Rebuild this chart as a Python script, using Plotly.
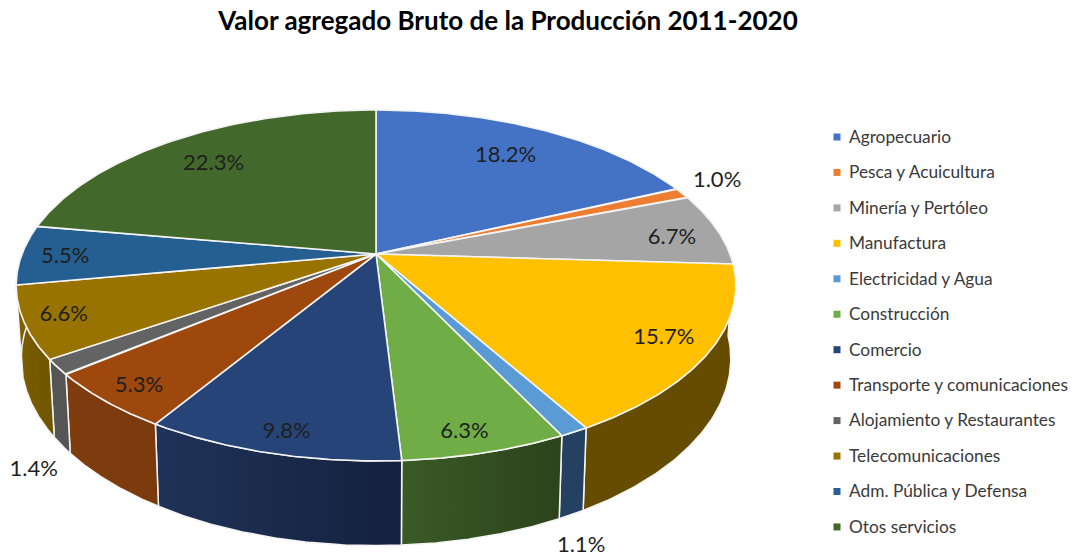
import numpy as np
import plotly.graph_objects as go

# ---- data ----
categories = ["Agropecuario", "Pesca y Acuicultura", "Minería y Pertóleo", "Manufactura",
              "Electricidad y Agua", "Construcción", "Comercio", "Transporte y comunicaciones",
              "Alojamiento y Restaurantes", "Telecomunicaciones", "Adm. Pública y Defensa",
              "Otos servicios"]
shares = [18.2, 1.0, 6.7, 15.7, 1.1, 6.3, 9.8, 5.3, 1.4, 6.6, 5.5, 22.3]
title_text = "Valor agregado Bruto de la Producción 2011-2020"

# ---- styles ----
top_colors = ["#4472c4", "#ed7d31", "#a5a5a5", "#ffc000", "#5b9bd5", "#70ad47",
              "#264478", "#9e480e", "#636363", "#997300", "#255e91", "#43682b"]
side_left = ["#2f4f88", "#a4561f", "#727272", "#654c00", "#254161", "#3a5a26",
             "#1f3358", "#7f3d0f", "#555555", "#7d5e00", "#7d5e00", "#2e471d"]
side_right = ["#2f4f88", "#a4561f", "#727272", "#654c00", "#254161", "#2c431b",
              "#14213f", "#7a3a0c", "#555555", "#6f5400", "#7d5e00", "#2e471d"]
label_radius = [0.77, 1.147, 0.857, 0.873, 1.382, 0.904, 0.903, 0.896, 1.299, 0.894, 0.876, 0.78]
label_turn = [-0.7, -1.7, 2.0, -0.5, 9.4, 1.3, -0.6, -0.4, -16.2, 0.2, -0.6, -0.4]

# ---- projection of the tilted disc (perspective), in page pixels ----
W, H = 1077, 556
CX, CY = 376, 254
PERSP = 0.1795
TOP_X, TOP_Y = 354, 169.8
BASE_X, BASE_Y, BASE_CY = 349, 181, 325
TEXT_DROP = 1.5


def project(deg, r=1.0, base=False):
    t = np.radians(deg)
    X, Y = r * np.sin(t), r * np.cos(t)
    s = 1 / (1 + PERSP * Y)
    if base:
        return CX + BASE_X * X * s, BASE_CY - BASE_Y * Y * s
    return CX + TOP_X * X * s, CY - TOP_Y * Y * s


values = np.array(shares, dtype=float)
edges = np.concatenate([[0], np.cumsum(values)]) / values.sum() * 360

fig = go.Figure()

# side walls, only those that can face the viewer
for i in range(len(values)):
    a, b = edges[i], edges[i + 1]
    if b < 85 or a > 285:
        continue
    ang = np.linspace(a, b, 80)
    tx, ty = project(ang)
    bx, by = project(ang[::-1], base=True)
    fig.add_trace(go.Scatter(
        x=np.r_[tx, bx, tx[0]], y=np.r_[ty, by, ty[0]], mode="lines", fill="toself",
        line=dict(color="#f4f4f4", width=1.5), showlegend=False, hoverinfo="skip",
        fillgradient=dict(type="horizontal",
                          colorscale=[[0, side_left[i]], [1, side_right[i]]])))

# top surface
for i, name in enumerate(categories):
    ang = np.linspace(edges[i], edges[i + 1], 120)
    x, y = project(ang)
    fig.add_trace(go.Scatter(
        x=np.r_[CX, x, CX], y=np.r_[CY, y, CY], mode="lines", fill="toself",
        fillcolor=top_colors[i], line=dict(color="#f4f4f4", width=1.6),
        name=name, showlegend=False, hoverinfo="name"))

# data labels
for i, v in enumerate(values):
    mid = (edges[i] + edges[i + 1]) / 2 + label_turn[i]
    lx, ly = project(mid, label_radius[i])
    fig.add_trace(go.Scatter(
        x=[lx], y=[ly + TEXT_DROP], mode="text", text=[f"{v:.1f}%"], textposition="middle center",
        textfont=dict(family="Lato, Carlito, sans-serif", size=22, color="#1f1f1f"),
        showlegend=False, hoverinfo="skip"))

# legend column
LEG_MARK_X, LEG_TEXT_X, LEG_TOP, LEG_STEP = 837, 849, 137, 35.45
for i, name in enumerate(categories):
    y = LEG_TOP + i * LEG_STEP
    fig.add_trace(go.Scatter(
        x=[LEG_MARK_X], y=[y], mode="markers",
        marker=dict(symbol="square", size=7, color=top_colors[i]),
        showlegend=False, hoverinfo="skip"))
    fig.add_trace(go.Scatter(
        x=[LEG_TEXT_X], y=[y + TEXT_DROP], mode="text", text=[name], textposition="middle right",
        textfont=dict(family="Lato, Carlito, sans-serif", size=17.3, color="#3a3a3a"),
        showlegend=False, hoverinfo="skip"))

fig.update_layout(
    width=W, height=H, margin=dict(l=0, r=0, t=0, b=0),
    paper_bgcolor="white", plot_bgcolor="white", showlegend=False,
    title=dict(text=title_text, x=508 / W, xanchor="center", y=1 - 21 / H, yanchor="middle",
               font=dict(family="Lato, Carlito, sans-serif", size=26, color="#000000", weight="bold")),
    xaxis=dict(range=[0, W], visible=False, fixedrange=True),
    yaxis=dict(range=[H, 0], visible=False, fixedrange=True),
)
fig.write_html("out.html", config=dict(displayModeBar=False, responsive=False),
               post_script="document.body.style.margin='0';")
